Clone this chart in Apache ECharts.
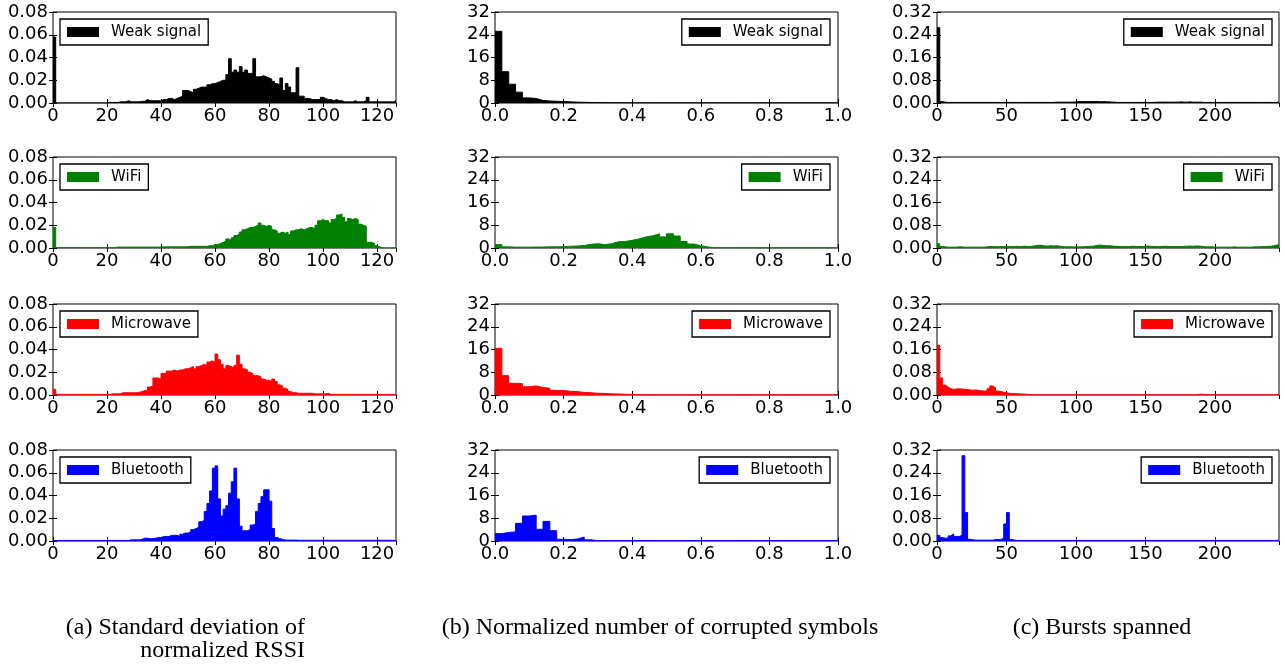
<!DOCTYPE html>
<html>
<head>
<meta charset="utf-8">
<script src="https://cdn.jsdelivr.net/npm/echarts@6/dist/echarts.min.js"></script>
<style>
html, body { margin: 0; padding: 0; background: #fff; }
#echart { width: 1285px; height: 667px; }
</style>
</head>
<body>
<div id="echart"></div>
<script>
// (a) standard deviation of normalized RSSI, one bin per unit
var rssiWeak = [
    0.058, 0, 0, 0, 0, 0, 0, 0, 0, 0,
    0, 0, 0, 0, 0, 0, 0, 0, 0, 0,
    0.0005, 0.0005, 0.0005, 0.0005, 0.001, 0.001, 0.001, 0.002, 0.001, 0.001,
    0.001, 0.001, 0.0015, 0.0015, 0.003, 0.002, 0.002, 0.002, 0.002, 0.002,
    0.003, 0.003, 0.004, 0.004, 0.003, 0.004, 0.005, 0.006, 0.011, 0.011,
    0.010, 0.009, 0.012, 0.013, 0.014, 0.014, 0.014, 0.016, 0.017, 0.017,
    0.018, 0.019, 0.020, 0.020, 0.025, 0.039, 0.027, 0.029, 0.027, 0.032,
    0.027, 0.029, 0.026, 0.026, 0.039, 0.023, 0.023, 0.024, 0.023, 0.022,
    0.021, 0.019, 0.017, 0.016, 0.022, 0.011, 0.017, 0.014, 0.009, 0.009,
    0.031, 0.006, 0.006, 0.004, 0.004, 0.003, 0.003, 0.003, 0.003, 0.005,
    0.004, 0.003, 0.003, 0.002, 0.003, 0.002, 0.002, 0.001, 0.001, 0.001,
    0.001, 0.002, 0.001, 0.001, 0.001, 0.002, 0.005, 0.001, 0.001, 0.001,
    0.001, 0.001, 0.001, 0.001, 0.001, 0.001, 0.002
];
var rssiWifi = [
    0.018, 0.0003, 0.0003, 0.0003, 0.0003, 0.0003, 0.0003, 0.0003, 0.0003, 0.0003,
    0.0003, 0.0003, 0.0003, 0.0003, 0.0003, 0.0003, 0.0003, 0.0003, 0.0003, 0.0003,
    0.0003, 0.0003, 0.0003, 0.0008, 0.0008, 0.0008, 0.0008, 0.0008, 0.0008, 0.0008,
    0.0008, 0.0008, 0.0008, 0.0008, 0.0008, 0.0008, 0.0008, 0.0008, 0.0008, 0.0008,
    0.001, 0.001, 0.001, 0.001, 0.001, 0.001, 0.001, 0.001, 0.001, 0.001,
    0.0015, 0.0015, 0.0015, 0.0015, 0.0015, 0.0015, 0.0015, 0.002, 0.002, 0.003,
    0.003, 0.004, 0.005, 0.006, 0.008, 0.007, 0.009, 0.011, 0.012, 0.014,
    0.016, 0.017, 0.018, 0.018, 0.019, 0.020, 0.022, 0.020, 0.019, 0.020,
    0.019, 0.016, 0.015, 0.013, 0.014, 0.013, 0.014, 0.012, 0.015, 0.016,
    0.016, 0.017, 0.016, 0.017, 0.018, 0.018, 0.017, 0.020, 0.024, 0.025,
    0.024, 0.024, 0.022, 0.025, 0.026, 0.029, 0.030, 0.027, 0.023, 0.026,
    0.025, 0.026, 0.025, 0.021, 0.020, 0.019, 0.005, 0.005, 0.004, 0.002,
    0.001, 0, 0, 0, 0, 0, 0
];
var rssiMicro = [
    0.005, 0.0005, 0.0005, 0.0005, 0.0005, 0.0005, 0.0005, 0.0005, 0.0005, 0.0005,
    0.0005, 0.0005, 0.0005, 0.0005, 0.0005, 0.0005, 0.0005, 0.0005, 0.0005, 0.0005,
    0.0005, 0.001, 0.001, 0.001, 0.001, 0.002, 0.002, 0.002, 0.002, 0.002,
    0.002, 0.0025, 0.003, 0.004, 0.004, 0.007, 0.008, 0.015, 0.015, 0.014,
    0.019, 0.019, 0.021, 0.021, 0.022, 0.021, 0.022, 0.022, 0.023, 0.023,
    0.024, 0.025, 0.023, 0.025, 0.026, 0.027, 0.026, 0.029, 0.030, 0.029,
    0.036, 0.031, 0.027, 0.023, 0.026, 0.025, 0.024, 0.026, 0.035, 0.027,
    0.023, 0.022, 0.020, 0.019, 0.017, 0.017, 0.016, 0.014, 0.013, 0.013,
    0.012, 0.014, 0.012, 0.009, 0.008, 0.006, 0.005, 0.003, 0.002, 0.002,
    0.0015, 0.0015, 0.0015, 0.0015, 0.0015, 0.0015, 0.001, 0.001, 0.001, 0.001,
    0.001, 0.0015, 0.0005, 0.0005, 0.0005, 0.0005, 0.0005, 0.0005, 0.0005, 0.0005,
    0.0005, 0.0005, 0.0005, 0.0005, 0.0005, 0.0005, 0.0005, 0.0005, 0.0005, 0.0005,
    0.0005, 0.0005, 0.0005, 0.0005, 0.0005, 0.0005, 0.0005
];
var rssiBlue = [
    0.0005, 0.0005, 0.0005, 0.0005, 0.0005, 0.0005, 0.0005, 0.0005, 0.0005, 0.0005,
    0.0005, 0.0005, 0.0005, 0.0005, 0.0005, 0.0005, 0.0005, 0.0005, 0.0005, 0.0005,
    0.0005, 0.0005, 0.0005, 0.0005, 0.0005, 0.0005, 0.0005, 0.0005, 0.001, 0.001,
    0.001, 0.001, 0.0015, 0.0025, 0.0025, 0.002, 0.002, 0.0025, 0.003, 0.003,
    0.004, 0.004, 0.004, 0.005, 0.005, 0.005, 0.004, 0.006, 0.007, 0.007,
    0.008, 0.010, 0.011, 0.012, 0.017, 0.018, 0.026, 0.033, 0.044, 0.064,
    0.066, 0.037, 0.022, 0.028, 0.031, 0.042, 0.052, 0.064, 0.037, 0.013,
    0.009, 0.009, 0.010, 0.014, 0.015, 0.026, 0.033, 0.039, 0.045, 0.045,
    0.035, 0.011, 0.003, 0.002, 0.0015, 0.0008, 0.0008, 0.0008, 0.0008, 0.0008,
    0.0006, 0.0006, 0.0006, 0.0006, 0.0006, 0.0006, 0.0006, 0.0006, 0.0006, 0.0006,
    0.0006, 0.0006, 0.0006, 0.0006, 0.0006, 0.0006, 0.0006, 0.0006, 0.0006, 0.0006,
    0.0006, 0.0006, 0.0006, 0.0006, 0.0006, 0.0006, 0.0006, 0.0006, 0.0006, 0.0006,
    0.0006, 0.0006, 0.0006, 0.0006, 0.0006, 0.0006, 0.0006
];

// (b) normalized number of corrupted symbols, bins of 0.02
var corruptWeak = [
    25.2, 11, 6.6, 3.8, 1.8, 1.6, 0.9, 0.7, 0.6, 0.5,
    0.4, 0.3, 0.25, 0.2, 0.15, 0.12, 0.1, 0.1, 0.08, 0.08,
    0.05, 0.05, 0.05, 0.05, 0.05, 0.05, 0.05, 0.05, 0.05, 0.05,
    0.05, 0.05, 0.05, 0.05, 0.05, 0.05, 0.05, 0.05, 0.05, 0.05,
    0.05, 0.05, 0.05, 0.05, 0.05, 0.05, 0.05, 0.05, 0.05, 0.05
];
var corruptWifi = [
    1.2, 0.4, 0.3, 0.3, 0.3, 0.35, 0.35, 0.4, 0.4, 0.45,
    0.6, 0.7, 0.9, 1.3, 1.5, 1.2, 1.5, 2.2, 2.3, 2.7,
    3.2, 3.9, 4.3, 5.0, 3.9, 5.0, 4.2, 2.3, 1.4, 0.8,
    0.4, 0.05, 0.05, 0.05, 0.05, 0.05, 0.05, 0.05, 0.05, 0.05,
    0.05, 0.05, 0.05, 0.05, 0.05, 0.05, 0.05, 0.05, 0.05, 0.05
];
var corruptMicro = [
    16.4, 6.8, 4.1, 4.0, 2.9, 3.2, 2.6, 2.4, 1.6, 1.6,
    1.3, 1.2, 0.9, 0.8, 0.6, 0.55, 0.4, 0.35, 0.25, 0.2,
    0.08, 0.08, 0.08, 0.08, 0.08, 0.08, 0.08, 0.08, 0.08, 0.08,
    0.08, 0.08, 0.08, 0.08, 0.08, 0.08, 0.08, 0.08, 0.08, 0.08,
    0.08, 0.08, 0.08, 0.08, 0.08, 0.08, 0.08, 0.08, 0.08, 0.08
];
var corruptBlue = [
    2.6, 3.0, 3.2, 6.2, 8.8, 9.1, 4.1, 6.9, 3.6, 0.6,
    0.5, 0.7, 1.4, 0.4, 0.15, 0.15, 0.15, 0.15, 0.15, 0.15,
    0.15, 0.15, 0.15, 0.15, 0.15, 0.15, 0.15, 0.15, 0.15, 0.15,
    0.15, 0.15, 0.15, 0.15, 0.15, 0.15, 0.15, 0.15, 0.15, 0.15,
    0.15, 0.15, 0.15, 0.15, 0.15, 0.15, 0.15, 0.15, 0.15, 0.15
];

// (c) bursts spanned, bins of 2
var burstWeak = [
    0.265, 0.005, 0.003, 0.002, 0.002, 0.002, 0.002, 0.002, 0.002, 0.002,
    0.002, 0.002, 0.002, 0.002, 0.002, 0.002, 0.002, 0.002, 0.002, 0.002,
    0.002, 0.002, 0.002, 0.002, 0.002, 0.002, 0.002, 0.002, 0.002, 0.002,
    0.002, 0.002, 0.002, 0.002, 0.002, 0.002, 0.002, 0.002, 0.002, 0.002,
    0.002, 0.002, 0.003, 0.003, 0.003, 0.003, 0.003, 0.003, 0.003, 0.004,
    0.005, 0.005, 0.005, 0.005, 0.005, 0.005, 0.005, 0.005, 0.004, 0.005,
    0.004, 0.004, 0.003, 0.003, 0.002, 0.002, 0.002, 0.002, 0.002, 0.002,
    0.002, 0.002, 0.002, 0.002, 0.002, 0.002, 0.002, 0.002, 0.003, 0.003,
    0.003, 0.003, 0.003, 0.003, 0.003, 0.003, 0.003, 0.004, 0.003, 0.003,
    0.004, 0.003, 0.003, 0.003, 0.003, 0.002, 0.002, 0.002, 0.002, 0.002,
    0.002, 0.002, 0.002, 0.002, 0.002, 0.002, 0.002, 0.002, 0.002, 0.002,
    0.002, 0.002, 0.002, 0.002, 0.002, 0.002, 0.002, 0.002, 0.002, 0.002,
    0.002, 0.002, 0.003
];
var burstWifi = [
    0.015, 0.005, 0.004, 0.003, 0.003, 0.003, 0.003, 0.004, 0.004, 0.003,
    0.003, 0.003, 0.003, 0.003, 0.003, 0.003, 0.003, 0.004, 0.005, 0.005,
    0.005, 0.004, 0.005, 0.005, 0.006, 0.005, 0.005, 0.005, 0.006, 0.005,
    0.006, 0.006, 0.005, 0.006, 0.007, 0.009, 0.010, 0.009, 0.007, 0.007,
    0.008, 0.007, 0.008, 0.007, 0.005, 0.004, 0.004, 0.004, 0.004, 0.004,
    0.004, 0.004, 0.005, 0.005, 0.006, 0.006, 0.008, 0.010, 0.010, 0.009,
    0.008, 0.008, 0.007, 0.006, 0.006, 0.005, 0.005, 0.005, 0.005, 0.006,
    0.006, 0.005, 0.006, 0.005, 0.006, 0.007, 0.006, 0.005, 0.005, 0.005,
    0.006, 0.006, 0.006, 0.005, 0.005, 0.005, 0.005, 0.005, 0.006, 0.006,
    0.007, 0.006, 0.007, 0.007, 0.006, 0.005, 0.004, 0.004, 0.004, 0.003,
    0.003, 0.003, 0.003, 0.003, 0.003, 0.003, 0.004, 0.003, 0.003, 0.003,
    0.003, 0.003, 0.003, 0.004, 0.004, 0.004, 0.005, 0.005, 0.006, 0.006,
    0.008, 0.010, 0.012
];
var burstMicro = [
    0.175, 0.060, 0.035, 0.028, 0.022, 0.020, 0.021, 0.022, 0.021, 0.020,
    0.019, 0.018, 0.017, 0.018, 0.016, 0.015, 0.014, 0.014, 0.022, 0.032,
    0.026, 0.014, 0.012, 0.010, 0.008, 0.006, 0.005, 0.005, 0.004, 0.004,
    0.003, 0.003, 0.002, 0.001, 0.001, 0.001, 0.001, 0.001, 0.001, 0.001,
    0.001, 0.001, 0.001, 0.001, 0.001, 0.001, 0.001, 0.001, 0.001, 0.001,
    0.001, 0.001, 0.001, 0.001, 0.001, 0.001, 0.001, 0.001, 0.001, 0.001,
    0.001, 0.001, 0.001, 0.001, 0.001, 0.001, 0.001, 0.001, 0.001, 0.001,
    0.001, 0.001, 0.001, 0.001, 0.001, 0.001, 0.001, 0.001, 0.001, 0.001,
    0.001, 0.001, 0.001, 0.001, 0.001, 0.001, 0.001, 0.001, 0.001, 0.001,
    0.001, 0.001, 0.001, 0.002, 0.003, 0.002, 0.001, 0.001, 0.001, 0.001,
    0.001, 0.001, 0.001, 0.001, 0.001, 0.001, 0.001, 0.001, 0.001, 0.001,
    0.001, 0.001, 0.001, 0.001, 0.001, 0.001, 0.001, 0.001, 0.001, 0.001,
    0.001, 0.001, 0.001
];
var burstBlue = [
    0.020, 0.012, 0.010, 0.010, 0.018, 0.025, 0.016, 0.016, 0.020, 0.300,
    0.100, 0.006, 0.004, 0.003, 0.003, 0.003, 0.003, 0.003, 0.003, 0.003,
    0.005, 0.005, 0.005, 0.010, 0.060, 0.100, 0.005, 0.003, 0.002, 0.002,
    0.002, 0.002, 0.002, 0.002, 0.002, 0.002, 0.002, 0.002, 0.002, 0.002,
    0.002, 0.002, 0.002, 0.002, 0.002, 0.002, 0.002, 0.002, 0.002, 0.002,
    0.002, 0.002, 0.002, 0.002, 0.002, 0.002, 0.002, 0.002, 0.002, 0.002,
    0.002, 0.002, 0.002, 0.002, 0.002, 0.002, 0.002, 0.002, 0.002, 0.002,
    0.002, 0.002, 0.002, 0.002, 0.002, 0.002, 0.002, 0.002, 0.002, 0.002,
    0.002, 0.002, 0.002, 0.002, 0.002, 0.002, 0.002, 0.002, 0.002, 0.002,
    0.002, 0.002, 0.002, 0.002, 0.002, 0.002, 0.002, 0.002, 0.002, 0.002,
    0.002, 0.002, 0.002, 0.002, 0.002, 0.002, 0.002, 0.002, 0.002, 0.002,
    0.002, 0.002, 0.002, 0.002, 0.002, 0.002, 0.002, 0.002, 0.002, 0.002,
    0.002, 0.002, 0.002
];

var rowNames = ['Weak signal', 'WiFi', 'Microwave', 'Bluetooth'];
var rowColors = ['#000000', '#008000', '#ff0000', '#0000ff'];
var rowTops = [12, 157, 304, 450];
var plotHeight = 91;

var columns = [
    { left: 53, width: 343, bin: 1, xMax: 127, xInt: 20, xDigits: 0, showMax: false, yMax: 0.08, yInt: 0.02, yDigits: 2,
      series: [rssiWeak, rssiWifi, rssiMicro, rssiBlue], legend: { left: 60 } },
    { left: 495, width: 343, bin: 0.02, xMax: 1, xInt: 0.2, xDigits: 1, showMax: true, yMax: 32, yInt: 8, yDigits: 0,
      series: [corruptWeak, corruptWifi, corruptMicro, corruptBlue], legend: { right: 455 } },
    { left: 937, width: 342, bin: 2, xMax: 246, xInt: 50, xDigits: 0, showMax: false, yMax: 0.32, yInt: 0.08, yDigits: 2,
      series: [burstWeak, burstWifi, burstMicro, burstBlue], legend: { right: 13 } }
];

// histogram as a filled step line starting at each bin's left edge
function steps(vals, w) {
    var pts = vals.map(function (v, i) { return [i * w, v]; });
    pts.push([vals.length * w, vals[vals.length - 1]]);
    return pts;
}

var tickFont = 'DejaVu Sans';
var grids = [], xAxes = [], yAxes = [], series = [], legends = [];

columns.forEach(function (col) {
    rowTops.forEach(function (top, r) {
        var g = grids.length;
        grids.push({
            left: col.left, top: top, width: col.width, height: plotHeight,
            show: true, borderColor: '#000', borderWidth: 1
        });
        ['bottom', 'top'].forEach(function (pos) {
            xAxes.push({
                type: 'value', gridIndex: g, position: pos,
                min: 0, max: col.xMax, interval: col.xInt,
                axisLine: { show: false },
                axisTick: { inside: true, length: 4, lineStyle: { color: '#000' } },
                axisLabel: {
                    show: pos === 'bottom', margin: 4, fontSize: 18, color: '#000', fontFamily: tickFont,
                    showMaxLabel: col.showMax,
                    formatter: function (v) { return v.toFixed(col.xDigits); }
                },
                splitLine: { show: false }
            });
        });
        ['left', 'right'].forEach(function (pos) {
            yAxes.push({
                type: 'value', gridIndex: g, position: pos,
                min: 0, max: col.yMax, interval: col.yInt,
                axisLine: { show: false },
                axisTick: { inside: true, length: 4, lineStyle: { color: '#000' } },
                axisLabel: {
                    show: pos === 'left', margin: 5, fontSize: 18, color: '#000', fontFamily: tickFont,
                    formatter: function (v) { return v.toFixed(col.yDigits); }
                },
                splitLine: { show: false }
            });
        });
        series.push({
            type: 'line', name: rowNames[r],
            xAxisIndex: 2 * g, yAxisIndex: 2 * g,
            data: steps(col.series[r], col.bin),
            step: 'end', symbol: 'none', showSymbol: false, clip: true, silent: true,
            lineStyle: { color: rowColors[r], width: 1 },
            itemStyle: { color: rowColors[r] },
            areaStyle: { color: rowColors[r], opacity: 1 }
        });
        legends.push(Object.assign({
            top: top + 7, data: [rowNames[r]], icon: 'rect', selectedMode: false,
            itemWidth: 32, itemHeight: 10, padding: [5, 7, 5, 7],
            borderColor: '#000', borderWidth: 1.3, backgroundColor: '#fff',
            textStyle: { fontSize: 15, fontFamily: tickFont, color: '#000', lineHeight: 16, padding: [0, 0, 0, 7] }
        }, col.legend));
    });
});

var captionFont = { fontSize: 24, fontFamily: 'Liberation Serif', fill: '#000', verticalAlign: 'middle' };

var chart = echarts.init(document.getElementById('echart'));
chart.setOption({
    animation: false,
    backgroundColor: '#fff',
    grid: grids,
    xAxis: xAxes,
    yAxis: yAxes,
    legend: legends,
    series: series,
    graphic: [
        { type: 'text', x: 305, y: 628, style: Object.assign({ text: '(a) Standard deviation of', align: 'right' }, captionFont) },
        { type: 'text', x: 305, y: 651, style: Object.assign({ text: 'normalized RSSI', align: 'right' }, captionFont) },
        { type: 'text', x: 660, y: 628, style: Object.assign({ text: '(b) Normalized number of corrupted symbols', align: 'center' }, captionFont) },
        { type: 'text', x: 1102, y: 628, style: Object.assign({ text: '(c) Bursts spanned', align: 'center' }, captionFont) }
    ]
});
</script>
</body>
</html>
